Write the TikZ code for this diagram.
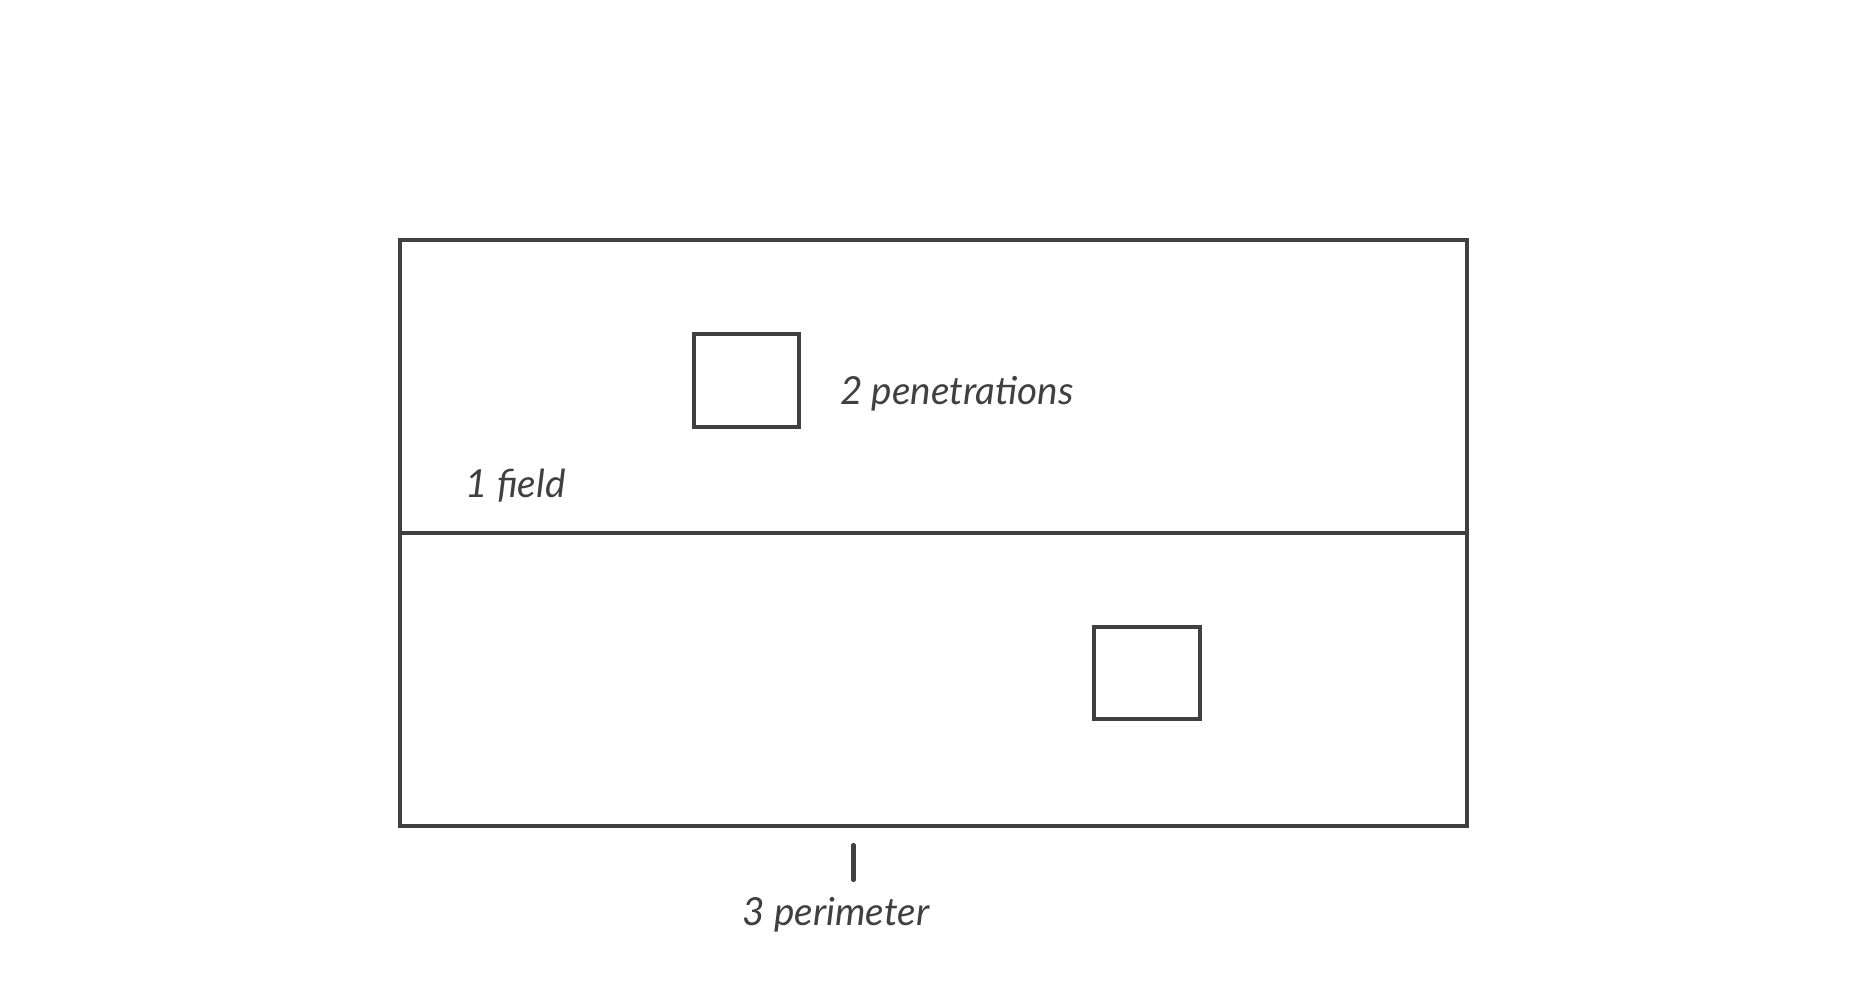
\documentclass[tikz,border=0pt]{standalone}
\usepackage{fontspec}
\setmainfont{Lato}
\usepackage{tikz}
\usetikzlibrary{positioning}
\definecolor{ink}{HTML}{404040}

\begin{document}
\begin{tikzpicture}[node distance=0pt, zone/.style={draw=ink, line width=2.3pt, minimum width=21.34cm, minimum height=5.86cm, inner sep=0pt, outer sep=0pt}, hole/.style={draw=ink, line width=2.3pt, inner sep=0pt}, tag/.style={text=ink, font=\fontsize{22}{26}\selectfont\itshape, inner sep=0pt}]
			\useasboundingbox (0,0) rectangle (37.34,19.74);
			
			% Draw areas
			\node (upper) [zone] at (18.67,12.01) {};
			\node (lower) [zone, below=of upper] {};
			\node (hole1) [hole, minimum width=2.10cm, minimum height=1.86cm] at (14.93,12.13) {};
			\node (hole2) [hole, minimum width=2.12cm, minimum height=1.85cm] at (22.94,6.28) {};
			
			% Draw labels
			\node (pen) [tag, anchor=west] at (16.80,11.87) {2 penetrations};
			\node (field) [tag, anchor=west] at (9.31,10.03) {1 field};
			\node (perim) [tag] at (16.72,1.45) {3 perimeter};
			
			% Draw tick
			\coordinate (t1) at (17.07,2.84);
			\coordinate (t2) at (17.07,2.14);
			\draw[ink, line width=2.3pt, line cap=round] (t1) -- (t2);
			
		\end{tikzpicture}
\end{document}
